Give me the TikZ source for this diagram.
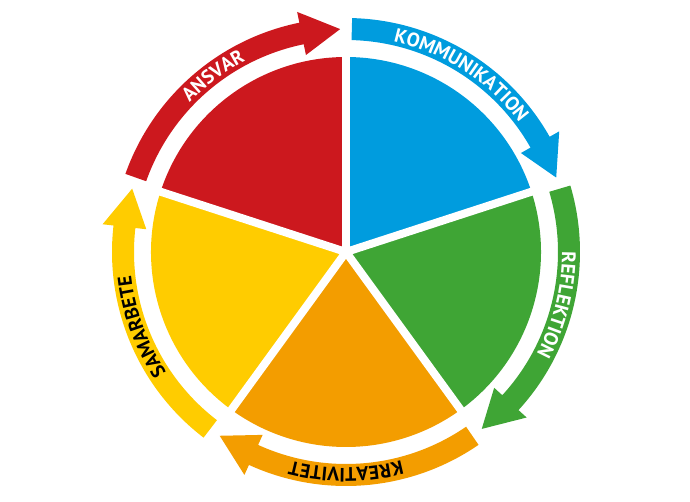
\documentclass[tikz,border=0pt]{standalone}
\usepackage{fontspec}
\setsansfont{PT Sans}
\usetikzlibrary{decorations.text}
\definecolor{ansvar_red}{RGB}{204,24,30}
\definecolor{komm_blue}{RGB}{0,156,222}
\definecolor{refl_green}{RGB}{63,165,53}
\definecolor{krea_orange}{RGB}{243,157,0}
\definecolor{sama_yellow}{RGB}{255,204,0}
\newcommand{\bandarrow}[3]{\fill[#1] (#2:234) arc[start angle=#2, end angle=#3+10, radius=234] -- (#3+10:245) -- (#3:223) -- (#3+10:201) -- (#3+10:212) arc[start angle=#3+10, end angle=#2, radius=212] -- cycle;}
\newcommand{\bandlabel}[3]{\path[band_label={#2}{#3}] (#1+45:216) arc[start angle=#1+45, end angle=#1-45, radius=216];}
\begin{document}
\begin{tikzpicture}[x=1pt,y=1pt,
    gap_line/.style={white,line width=8pt},
    band_label/.style 2 args={decorate,decoration={text along path,text align=center,
      text={|\sffamily\bfseries\fontsize{19.5}{19.5}\selectfont\color{#1}|#2}}}]
  \useasboundingbox (-346,-250) rectangle (344,252);
\fill[ansvar_red] (0,0) -- (90:195) arc[start angle=90, end angle=162, radius=195] -- cycle;
\fill[komm_blue] (0,0) -- (18:195) arc[start angle=18, end angle=90, radius=195] -- cycle;
\fill[refl_green] (0,0) -- (-54:195) arc[start angle=-54, end angle=18, radius=195] -- cycle;
\fill[krea_orange] (0,0) -- (-126:195) arc[start angle=-126, end angle=-54, radius=195] -- cycle;
\fill[sama_yellow] (0,0) -- (162:195) arc[start angle=162, end angle=234, radius=195] -- cycle;
\foreach \b in {18,90,162,234,306}
  \draw[gap_line] (0,0) -- (\b:200);
\bandarrow{ansvar_red}{160.5}{91.5}
\bandarrow{komm_blue}{88.5}{19.5}
\bandarrow{refl_green}{16.5}{-52.5}
\bandarrow{krea_orange}{-55.5}{-124.5}
\bandarrow{sama_yellow}{232.5}{163.5}
\bandlabel{127}{white}{ANSVAR}
\bandlabel{57}{white}{KOMMUNIKATION}
\bandlabel{-14}{white}{REFLEKTION}
\bandlabel{-90}{black}{KREATIVITET}
\bandlabel{200}{black}{SAMARBETE}
\end{tikzpicture}
\end{document}
